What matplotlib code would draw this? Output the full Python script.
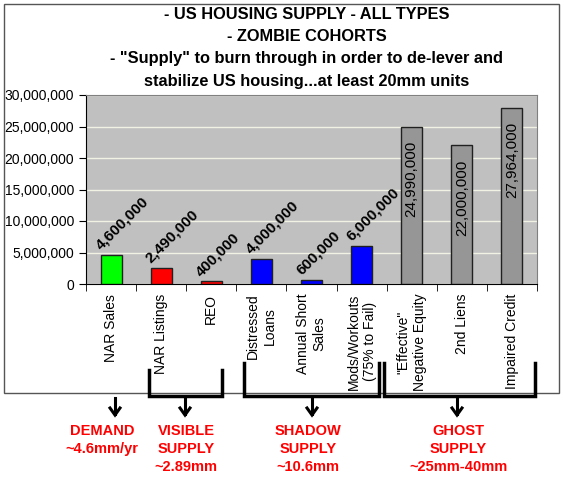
import numpy as np
import matplotlib.pyplot as plt
from matplotlib.patches import Rectangle

plt.rcParams['font.family'] = ['Liberation Sans', 'DejaVu Sans']

# data
categories = ['NAR Sales', 'NAR Listings', 'REO', 'Distressed\nLoans',
              'Annual Short\nSales', 'Mods/Workouts\n(75% to Fail)',
              '"Effective"\nNegative Equity', '2nd Liens', 'Impaired Credit']
values = [4600000, 2490000, 400000, 4000000, 600000, 6000000,
          24990000, 22000000, 27964000]
bar_colors = ['#00FF00', '#FF0000', '#FF0000', '#0000FF', '#0000FF', '#0000FF',
              '#969696', '#969696', '#969696']
y_ticks = [0, 5000000, 10000000, 15000000, 20000000, 25000000, 30000000]

title = ('- US HOUSING SUPPLY - ALL TYPES\n- ZOMBIE COHORTS\n'
         '- "Supply" to burn through in order to de-lever and\n'
         'stabilize US housing...at least 20mm units')

groups = ['DEMAND\n~4.6mm/yr', 'VISIBLE\nSUPPLY\n~2.89mm',
          'SHADOW\nSUPPLY\n~10.6mm', 'GHOST\nSUPPLY\n~25mm-40mm']

W, H = 564, 480
fig = plt.figure(figsize=(W / 100, H / 100), dpi=100)


def fx(px):
    return px / W


def fy(py):
    return 1 - py / H


# outer chart border
fig.patches.append(Rectangle((fx(4), fy(393)), fx(559) - fx(4), fy(4) - fy(393),
                             transform=fig.transFigure, fill=False,
                             edgecolor='#555555', lw=1))

ax = fig.add_axes([fx(86), fy(284), fx(537) - fx(86), fy(95) - fy(284)])
ax.set_facecolor('#C0C0C0')
x = np.arange(len(categories))
ax.bar(x, values, width=0.42, color=bar_colors, edgecolor='#202020', lw=1, zorder=3)
ax.set_xlim(-0.5, len(categories) - 0.5)
ax.set_ylim(0, 30000000)
ax.set_yticks(y_ticks)
ax.set_yticklabels([f'{v:,}' for v in y_ticks], fontsize=10)
ax.yaxis.grid(True, color='#F2F2E4', lw=1, zorder=0)
ax.set_xticks(x)
ax.set_xticklabels(categories, rotation=90, fontsize=10, va='top', ha='center')
ax.tick_params(axis='x', length=0, pad=7)
ax.set_xticks(np.arange(-0.5, len(categories)), minor=True)
ax.tick_params(axis='x', which='minor', length=5, direction='out')
ax.tick_params(axis='y', length=5, direction='out')
for s in ['top', 'right']:
    ax.spines[s].set_color('#808080')
ax.spines['left'].set_color('black')
ax.spines['bottom'].set_color('black')

# value labels
for i, v in enumerate(values):
    if v < 10000000:
        ax.text(i - 0.16, v + 400000, f'{v:,}', rotation=45, rotation_mode='anchor',
                ha='left', va='bottom', fontsize=11, fontweight='bold', zorder=4)
    else:
        ax.text(i, v - 2200000, f'{v:,}', rotation=90, ha='center', va='top',
                fontsize=11, zorder=4)

fig.text(fx(307), fy(7), title, ha='center', va='top', fontsize=11.8,
         fontweight='bold', linespacing=1.6)

# brackets under the category labels
brackets = [(149, 222, 370), (244, 379, 363), (384, 535, 363)]
for x0, x1, ytop in brackets:
    fig.add_artist(plt.Line2D([fx(x0), fx(x0), fx(x1), fx(x1)],
                              [fy(ytop), fy(396), fy(396), fy(ytop)],
                              transform=fig.transFigure, color='black', lw=2.5,
                              solid_joinstyle='miter'))

# arrows and group text
arrow_x = [115, 185, 312, 457]
text_x = [102, 186, 308, 458]
for ax_px, tx_px, g in zip(arrow_x, text_x, groups):
    fig.add_artist(plt.Line2D([fx(ax_px)] * 2, [fy(398), fy(414)],
                              transform=fig.transFigure, color='black', lw=2.2))
    fig.add_artist(plt.Line2D([fx(ax_px - 5), fx(ax_px), fx(ax_px + 5)],
                              [fy(408), fy(415), fy(408)],
                              transform=fig.transFigure, color='black', lw=2.2,
                              solid_joinstyle='miter'))
    fig.text(fx(tx_px), fy(424), g, ha='center', va='top', color='#FF0000',
             fontsize=10.5, fontweight='bold', linespacing=1.35)

fig.savefig('out.png', dpi=100)
